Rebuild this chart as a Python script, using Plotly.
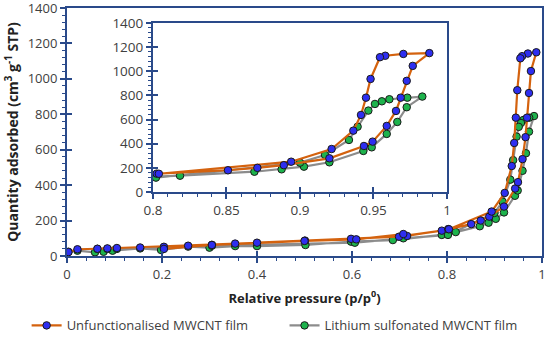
import plotly.graph_objects as go

# Unfunctionalised MWCNT film: adsorption (ascending) and desorption (descending)
unf_ads_p = [0.003, 0.022, 0.064, 0.085, 0.105, 0.154, 0.204, 0.255, 0.305, 0.354, 0.40, 0.501, 0.598,
             0.699, 0.789, 0.8025, 0.851, 0.871, 0.889, 0.92, 0.9435, 0.9494, 0.959, 0.9653, 0.9685,
             0.9726, 0.9767, 0.988]
unf_ads_v = [22, 38, 41, 43, 45, 48, 52, 58, 63, 70, 75, 87, 97,
             109, 143, 152, 180, 200, 222, 279, 381, 417, 547, 671, 781,
             920, 1044, 1150]
unf_des_p = [0.9703, 0.958, 0.9544, 0.948, 0.9449, 0.9415, 0.9363, 0.9215, 0.894, 0.804, 0.716,
             0.708, 0.609, 0.50, 0.305, 0.204]
unf_des_v = [1143, 1128, 1116, 936, 781, 638, 508, 356, 251, 151, 113,
             124, 94, 85, 62, 40]

# Lithium sulfonated MWCNT film
li_ads_p = [0.003, 0.022, 0.059, 0.077, 0.096, 0.154, 0.198, 0.255, 0.30, 0.354, 0.40, 0.502, 0.598,
            0.686, 0.789, 0.802, 0.8184, 0.869, 0.8875, 0.9027, 0.920, 0.9431, 0.9488, 0.959, 0.9662,
            0.9726, 0.9832]
li_ads_v = [24, 30, 21, 24, 30, 43, 34, 53, 47, 56, 56, 62, 81,
            90, 119, 127, 135, 168, 188, 210, 246, 340, 370, 481, 580,
            702, 790]
li_des_p = [0.973, 0.9608, 0.9557, 0.951, 0.9465, 0.9392, 0.9333, 0.917, 0.90, 0.802, 0.708,
            0.606, 0.305, 0.204, 0.105, 0.085, 0.064]
li_des_v = [781, 768, 751, 729, 674, 541, 431, 307, 243, 119, 100,
            75, 58, 47, 40, 40, 40]

series_names = ["Unfunctionalised MWCNT film", "Lithium sulfonated MWCNT film"]
x_main_ticks = [0, 0.2, 0.4, 0.6, 0.8, 1]
x_inset_ticks = [0.8, 0.85, 0.9, 0.95, 1]

unf_p = unf_ads_p + unf_des_p
unf_v = unf_ads_v + unf_des_v
li_p = li_ads_p + li_des_p
li_v = li_ads_v + li_des_v

ORANGE = "#D4620E"
BLUE = "#2E2EF0"
GRAY = "#8C8C8C"
GREEN = "#1DB34C"
AX = "#2A4A8A"
TXT = "#404040"
FONT = "Open Sans"

fig = go.Figure()

def add(p, v, name, lc, mc, xa, ya, show, legend="legend"):
    fig.add_trace(go.Scatter(
        x=p, y=v, name=name, mode="lines+markers", xaxis=xa, yaxis=ya, showlegend=show,
        legend=legend,
        line=dict(color=lc, width=2.2),
        marker=dict(color=mc, size=7.5, line=dict(color="#1a1a1a", width=1)),
    ))

# main (gray drawn first, orange on top)
add(li_p, li_v, series_names[1], GRAY, GREEN, "x", "y", True, "legend2")
add(unf_p, unf_v, series_names[0], ORANGE, BLUE, "x", "y", True, "legend")
# inset
add(li_p, li_v, series_names[1], GRAY, GREEN, "x2", "y2", False)
add(unf_p, unf_v, series_names[0], ORANGE, BLUE, "x2", "y2", False)

def axis_common(rng, dtick, mdtick, domain, anchor, fsize):
    return dict(range=rng, dtick=dtick, domain=domain, anchor=anchor, automargin=False,
                showline=True, linecolor=AX, linewidth=2, mirror=True,
                ticks="outside", ticklen=5, tickwidth=1.5, tickcolor=AX, ticklabeloverflow="allow",
                minor=dict(dtick=mdtick, ticks="outside", ticklen=3, tickwidth=1, tickcolor=AX),
                showgrid=False, zeroline=False, tickfont=dict(family=FONT, size=fsize, color=TXT))

xmain = axis_common([0, 1], 0.2, 0.04, [0, 1], "y", 13)
xmain.update(title=dict(text="<b>Relative pressure (p/p<sup>0</sup>)</b>",
                        font=dict(family=FONT, size=13, color="#222"), standoff=12),
             tickvals=x_main_ticks, ticktext=[f"{t:g}" for t in x_main_ticks])
ymain = axis_common([0, 1400], 200, 40, [0, 1], "x", 13)
ymain.update(title=dict(text="<b>Quantity adsorbed (cm<sup>3</sup> g<sup>-1</sup> STP)</b>",
                        font=dict(family=FONT, size=14, color="#222"), standoff=6))

xin = axis_common([0.8, 1], 0.05, 0.01, [0.181, 0.80], "y2", 13.5)
xin.update(tickvals=x_inset_ticks, ticktext=[f"{t:g}" for t in x_inset_ticks])
yin = axis_common([0, 1400], 200, 40, [0.258, 0.94], "x2", 13.5)

def overlay(over, anchor, side, dtick):
    return dict(overlaying=over, matches=over, anchor=anchor, side=side, ticks="inside", ticklen=5,
                tickwidth=1.5, tickcolor=AX, dtick=dtick, showticklabels=False, showline=False,
                showgrid=False, zeroline=False, automargin=False)

leg_common = dict(orientation="h", xanchor="left", y=-0.28, yanchor="middle",
                  font=dict(family=FONT, size=13, color=TXT), bgcolor="rgba(0,0,0,0)",
                  itemwidth=30)

fig.update_layout(
    width=550, height=341,
    margin=dict(l=67, r=8, t=8, b=85, autoexpand=False),
    paper_bgcolor="white", plot_bgcolor="white",
    font=dict(family=FONT, color=TXT),
    xaxis=xmain, yaxis=ymain, xaxis2=xin, yaxis2=yin,
    xaxis3=overlay("x", "y", "bottom", 0.2),
    yaxis3=overlay("y", "x", "left", 200),
    xaxis4=overlay("x2", "y2", "bottom", 0.05),
    yaxis4=overlay("y2", "x2", "left", 200),
    legend=dict(x=-0.085, **leg_common),
    legend2=dict(x=0.458, **leg_common),
    shapes=[dict(type="rect", xref="x domain", yref="y domain", x0=0.181, x1=0.80, y0=0.258, y1=0.94,
                 fillcolor="white", line=dict(width=0), layer="below")],
)

# dummy traces so overlay axes render
fig.add_trace(go.Scatter(x=[None], y=[None], xaxis="x3", yaxis="y3", showlegend=False, hoverinfo="skip"))
fig.add_trace(go.Scatter(x=[None], y=[None], xaxis="x4", yaxis="y4", showlegend=False, hoverinfo="skip"))

fig.write_html("out.html", config={"displayModeBar": False},
               post_script="document.body.style.margin='0';document.body.style.padding='0';")
